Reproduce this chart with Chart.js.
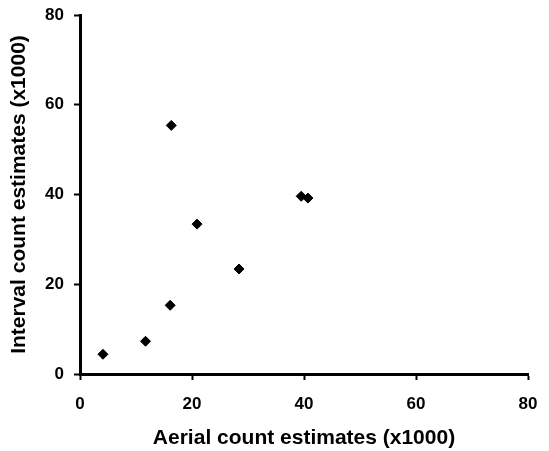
<!DOCTYPE html>
<html>
<head>
<meta charset="utf-8">
<script src="https://cdn.jsdelivr.net/npm/chart.js@4"></script>
<style>
  html, body { margin: 0; padding: 0; background: #fff; }
  canvas { display: block; }
</style>
</head>
<body>
<canvas id="myChart" width="549" height="451"></canvas>
<script>
// values (x1000)
var aerialCounts = [4.1, 11.7, 16.1, 16.3, 20.9, 28.4, 39.5, 40.7];
var intervalCounts = [4.4, 7.3, 15.3, 55.4, 33.4, 23.4, 39.6, 39.2];
var tickValues = [0, 20, 40, 60, 80];

var points = aerialCounts.map(function (x, i) {
    return { x: x, y: intervalCounts[i] };
});

var tickFont = { family: 'Liberation Sans, Arial, sans-serif', size: 17, weight: 'bold' };
var titleFont = { family: 'Liberation Sans, Arial, sans-serif', size: 21, weight: 'bold' };

let mychart = new Chart("myChart", {
    type: "scatter",
    data: {
        datasets: [{
            data: points,
            pointStyle: "rectRot",
            pointRadius: 5,
            pointHoverRadius: 5,
            backgroundColor: "#000",
            borderColor: "#000",
            borderWidth: 1
        }]
    },
    options: {
        responsive: false,
        animation: false,
        layout: { padding: { top: 15, right: 21, left: 0, bottom: 0 } },
        plugins: { legend: { display: false }, tooltip: { enabled: false } },
        scales: {
            x: {
                min: 0,
                max: 80,
                afterBuildTicks: function (scale) {
                    scale.ticks = tickValues.map(function (v) { return { value: v }; });
                },
                // fixed plot box, like the original
                afterFit: function (scale) {
                    scale.height = 77;
                    scale.paddingLeft = 0;
                    scale.paddingRight = 0;
                },
                grid: { drawOnChartArea: false, tickLength: 6, tickWidth: 2, color: "#000" },
                border: { display: true, color: "#000", width: 3 },
                ticks: { color: "#000", font: tickFont, padding: 14, maxRotation: 0 },
                title: {
                    display: true,
                    text: "Aerial count estimates (x1000)",
                    color: "#000",
                    font: titleFont,
                    padding: { top: 0, bottom: 0 }
                }
            },
            y: {
                min: 0,
                max: 80,
                afterBuildTicks: function (scale) {
                    scale.ticks = tickValues.map(function (v) { return { value: v }; });
                },
                afterFit: function (scale) {
                    scale.width = 80;
                    scale.paddingTop = 0;
                    scale.paddingBottom = 0;
                },
                grid: { drawOnChartArea: false, tickLength: 6, tickWidth: 2, color: "#000" },
                border: { display: true, color: "#000", width: 3 },
                ticks: { color: "#000", font: tickFont, padding: 10 },
                title: {
                    display: true,
                    text: "Interval count estimates (x1000)",
                    color: "#000",
                    font: titleFont,
                    padding: { top: 7, bottom: 0 }
                }
            }
        }
    }
});
</script>
</body>
</html>
